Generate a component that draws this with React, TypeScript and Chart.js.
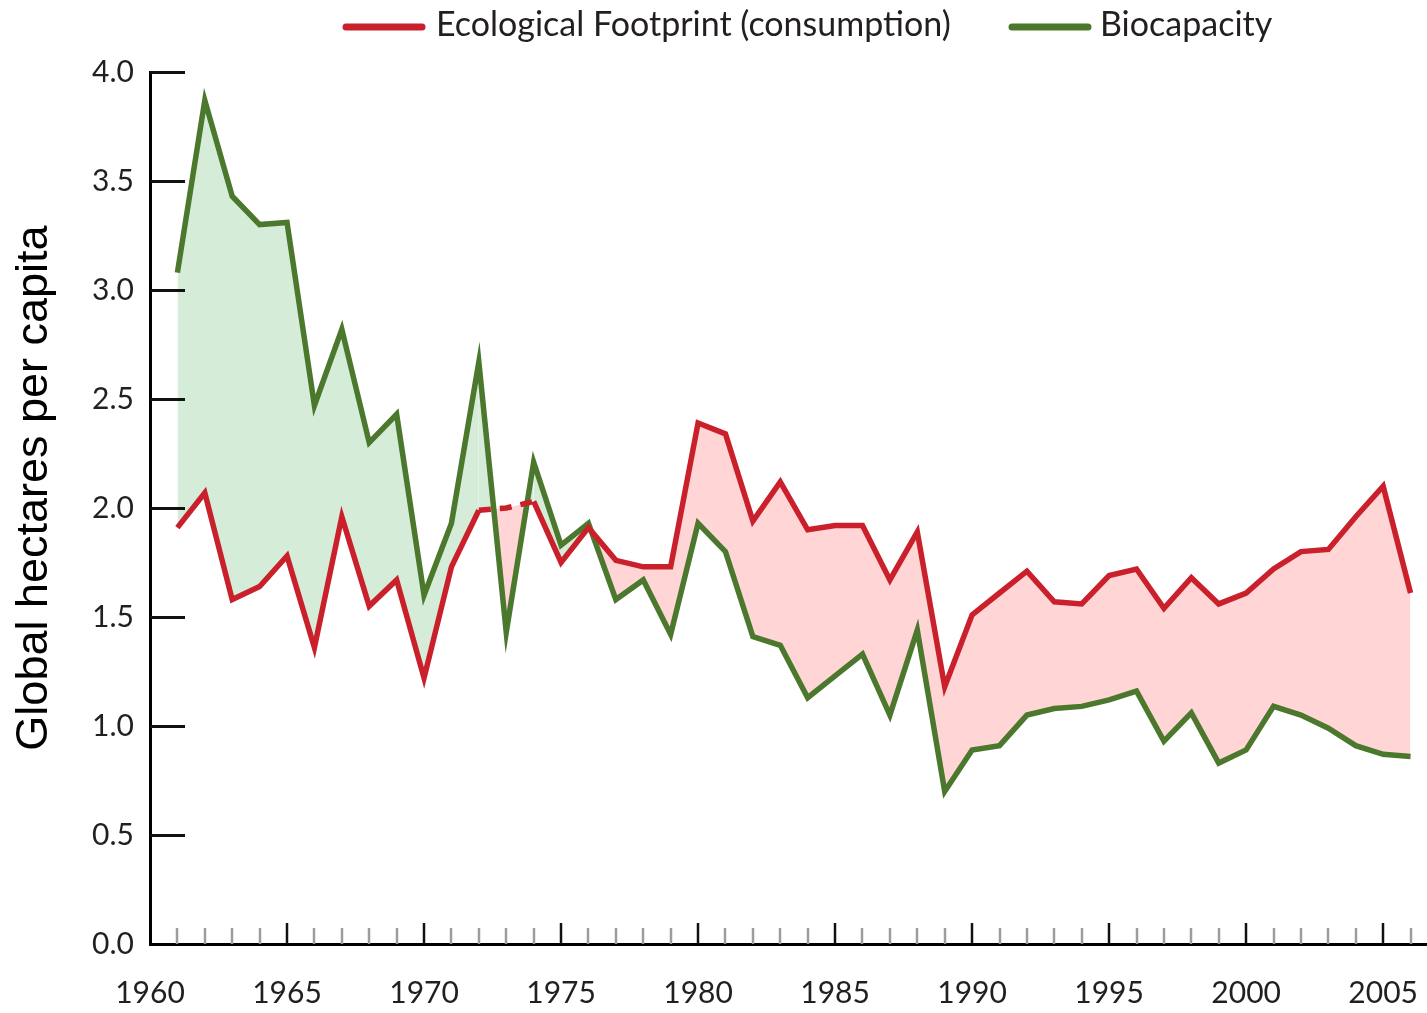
import React, { useEffect, useRef } from "react";
import { Chart, registerables } from "chart.js";

Chart.register(...registerables);

const years = [
  1961, 1962, 1963, 1964, 1965, 1966, 1967, 1968, 1969, 1970,
  1971, 1972, 1973, 1974, 1975, 1976, 1977, 1978, 1979, 1980,
  1981, 1982, 1983, 1984, 1985, 1986, 1987, 1988, 1989, 1990,
  1991, 1992, 1993, 1994, 1995, 1996, 1997, 1998, 1999, 2000,
  2001, 2002, 2003, 2004, 2005, 2006,
];

const footprint = [
  1.91, 2.07, 1.58, 1.64, 1.78, 1.36, 1.96, 1.55, 1.67, 1.22,
  1.73, 1.99, 2.0, 2.03, 1.75, 1.91, 1.76, 1.73, 1.73, 2.39,
  2.34, 1.94, 2.12, 1.9, 1.92, 1.92, 1.67, 1.89, 1.18, 1.51,
  1.61, 1.71, 1.57, 1.56, 1.69, 1.72, 1.54, 1.68, 1.56, 1.61,
  1.72, 1.8, 1.81, 1.96, 2.1, 1.61,
];

const biocapacity = [
  3.08, 3.87, 3.43, 3.3, 3.31, 2.47, 2.82, 2.3, 2.43, 1.6,
  1.93, 2.67, 1.43, 2.21, 1.83, 1.93, 1.58, 1.67, 1.42, 1.93,
  1.8, 1.41, 1.37, 1.13, 1.23, 1.33, 1.05, 1.44, 0.7, 0.89,
  0.91, 1.05, 1.08, 1.09, 1.12, 1.16, 0.93, 1.06, 0.83, 0.89,
  1.09, 1.05, 0.99, 0.91, 0.87, 0.86,
];

const xTickValues = [1960, 1965, 1970, 1975, 1980, 1985, 1990, 1995, 2000, 2005];
const yTickValues = [0, 0.5, 1, 1.5, 2, 2.5, 3, 3.5, 4];
const seriesLabels = ["Ecological Footprint (consumption)", "Biocapacity"];
const yAxisTitle = "Global hectares per capita";

const RED = "#c9202b";
const GREEN = "#4b782d";
const RED_FILL = "#ffd5d5";
const GREEN_FILL = "#d5edd8";
const TEXT = "#231f20";
const TICK_FONT = "Lato";

const decorPlugin = {
  id: "decor",
  afterDatasetsDraw(chart: any) {
    const { ctx } = chart;
    const x = chart.scales.x;
    const y = chart.scales.y;
    ctx.save();
    ctx.strokeStyle = "#111";
    ctx.lineWidth = 3;
    yTickValues.forEach((v) => {
      if (v === 0) return;
      const py = Math.round(y.getPixelForValue(v)) + 0.5;
      ctx.beginPath();
      ctx.moveTo(x.left, py);
      ctx.lineTo(x.left + 35, py);
      ctx.stroke();
    });
    years.forEach((yr) => {
      const major = xTickValues.includes(yr);
      const px = Math.round(x.getPixelForValue(yr));
      ctx.strokeStyle = major ? "#111" : "#9c9c9c";
      ctx.lineWidth = 2.5;
      ctx.beginPath();
      ctx.moveTo(px, y.bottom);
      ctx.lineTo(px, y.bottom - (major ? 21 : 16));
      ctx.stroke();
    });
    ctx.restore();
  },
  afterDraw(chart: any) {
    const { ctx } = chart;
    const ds = chart.data.datasets;
    ctx.save();
    const items = [
      { x0: 346, x1: 422, tx: 436, color: ds[0].borderColor, text: ds[0].label },
      { x0: 1012, x1: 1088, tx: 1100, color: ds[1].borderColor, text: ds[1].label },
    ];
    items.forEach((it) => {
      ctx.strokeStyle = it.color;
      ctx.lineWidth = 7;
      ctx.lineCap = "round";
      ctx.beginPath();
      ctx.moveTo(it.x0, 27);
      ctx.lineTo(it.x1, 27);
      ctx.stroke();
      ctx.fillStyle = TEXT;
      ctx.font = `34px ${TICK_FONT}`;
      ctx.textAlign = "left";
      ctx.textBaseline = "alphabetic";
      ctx.fillText(it.text, it.tx, 36);
    });
    ctx.translate(35, 488);
    ctx.rotate(-Math.PI / 2);
    ctx.fillStyle = "#000";
    ctx.font = `45px "Liberation Sans", Arial, sans-serif`;
    ctx.textAlign = "center";
    ctx.textBaseline = "middle";
    ctx.fillText(yAxisTitle, 0, 0);
    ctx.restore();
  },
};

export default function App() {
  const canvasRef = useRef<HTMLCanvasElement | null>(null);

  useEffect(() => {
    const canvas = canvasRef.current;
    if (!canvas) return;
    const chart = new Chart(canvas, {
      type: "line",
      data: {
        datasets: [
          {
            label: seriesLabels[0],
            data: years.map((yr, i) => ({ x: yr, y: footprint[i] })),
            borderColor: RED,
            backgroundColor: RED_FILL,
            borderWidth: 5.5,
            pointRadius: 0,
            tension: 0,
            borderJoinStyle: "miter",
            fill: { target: 1, above: RED_FILL, below: GREEN_FILL },
            segment: {
              borderDash: (c: any) =>
                c.p0DataIndex === 11 || c.p0DataIndex === 12 ? [12, 9] : undefined,
            },
          },
          {
            label: seriesLabels[1],
            data: years.map((yr, i) => ({ x: yr, y: biocapacity[i] })),
            borderColor: GREEN,
            backgroundColor: GREEN_FILL,
            borderWidth: 5.5,
            pointRadius: 0,
            tension: 0,
            borderJoinStyle: "miter",
            fill: false,
          },
        ],
      },
      options: {
        responsive: false,
        animation: false,
        devicePixelRatio: 1,
        layout: { padding: { top: 72, right: 0, bottom: 0, left: 0 } },
        plugins: {
          legend: { display: false },
          tooltip: { enabled: false },
          filler: { drawTime: "beforeDatasetsDraw" },
        },
        scales: {
          x: {
            type: "linear",
            min: 1960,
            max: 2006.6,
            afterBuildTicks: (s: any) => {
              s.ticks = xTickValues.map((v) => ({ value: v }));
            },
            afterFit: (s: any) => {
              s.height = 69;
              s.paddingLeft = 0;
              s.paddingRight = 0;
            },
            ticks: {
              font: { family: TICK_FONT, size: 30 },
              color: TEXT,
              padding: 31,
              maxRotation: 0,
              autoSkip: false,
              callback: (v: any) => String(v),
            },
            grid: { display: false, drawTicks: false },
            border: { display: true, color: "#000", width: 3 },
          },
          y: {
            type: "linear",
            min: 0,
            max: 4,
            afterBuildTicks: (s: any) => {
              s.ticks = yTickValues.map((v) => ({ value: v }));
            },
            afterFit: (s: any) => {
              s.width = 150;
            },
            ticks: {
              font: { family: TICK_FONT, size: 30 },
              color: TEXT,
              padding: 16,
              autoSkip: false,
              callback: (v: any) => Number(v).toFixed(1),
            },
            grid: { display: false, drawTicks: false },
            border: { display: true, color: "#000", width: 3 },
          },
        },
      },
      plugins: [decorPlugin],
    } as any);
    return () => chart.destroy();
  }, []);

  return (
    <div style={{ position: "absolute", left: 0, top: 0, width: 1427, height: 1013, background: "#fff" }}>
      <canvas ref={canvasRef} width={1427} height={1013} style={{ display: "block" }} />
    </div>
  );
}
